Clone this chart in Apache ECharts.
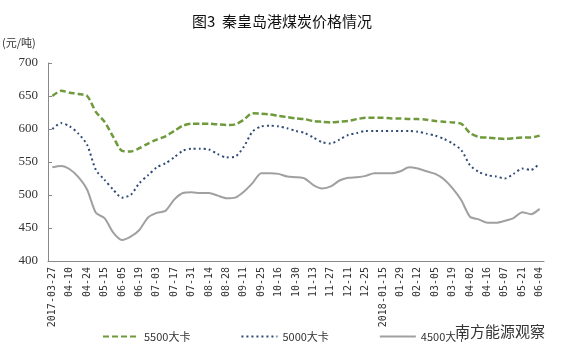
<!DOCTYPE html>
<html><head><meta charset="utf-8">
<script src="https://cdn.jsdelivr.net/npm/echarts@6/dist/echarts.min.js"></script>
<style>html,body{margin:0;padding:0;background:#fff}#c{width:564px;height:357px}</style>
</head><body><div id="c"></div>
<script>
const categories = ['2017-03-27','04-03','04-10','04-17','04-24','05-08','05-15','05-29','06-05','06-12','06-19','06-26','07-03','07-10','07-17','07-24','07-31','08-07','08-14','08-21','08-28','09-04','09-11','09-18','09-25','10-09','10-16','10-23','10-30','11-06','11-13','11-20','11-27','12-04','12-11','12-18','12-25','01-08','2018-01-15','01-22','01-29','02-05','02-12','02-26','03-05','03-12','03-19','03-26','04-02','04-09','04-16','04-23','05-07','05-14','05-21','05-28','06-04'];
const s5500 = [650,658,655,653,650,626,611,588,567,566,571,578,584,589,597,605,608,608,608,607,606,607,614,624,623,622,620,618,616,615,612,611,610,611,612,615,617,617,617,616,616,615,615,614,612,611,610,608,594,588,587,586,585,586,587,587,590];
const s5000 = [600,609,604,593,576,538,523,508,496,500,518,530,542,548,557,567,570,570,569,562,557,558,573,596,604,605,604,601,597,594,587,580,578,584,591,594,597,597,597,597,597,597,596,593,590,585,578,568,545,535,530,528,525,532,540,538,548];
const s4500 = [542,544,539,527,508,473,465,443,432,437,447,466,473,476,493,503,504,503,503,499,495,496,505,518,533,533,532,528,527,525,515,510,513,522,526,527,529,533,533,533,536,542,540,536,532,524,510,492,467,463,458,458,461,465,474,471,479];
const seriesNames = ['5500大卡','5000大卡','4500大卡'];

const chart = echarts.init(document.getElementById('c'));
chart.setOption({
  animation:false,
  title:{text:'图3  秦皇岛港煤炭价格情况',left:'center',top:9,textStyle:{fontSize:15,fontWeight:'normal',color:'#111',fontFamily:'Noto Sans CJK SC'}},
  graphic:[
    {type:'text',left:2,top:37,style:{text:'(元/吨)',font:'11px "Noto Sans CJK SC"',fill:'#333'}},
    {type:'text',left:455,top:324,z:100,style:{text:'南方能源观察',font:'15px "Noto Sans CJK SC"',fill:'#333',backgroundColor:'rgba(255,255,255,0.75)'}}
  ],
  legend:{top:326,left:97,itemGap:50,itemWidth:36,itemHeight:10,
    itemStyle:{opacity:0},
    textStyle:{fontSize:11,color:'#333',fontFamily:'Noto Sans CJK SC'},
    data:seriesNames},
  grid:{left:48,right:20,top:63,bottom:96},
  xAxis:{type:'category',data:categories,boundaryGap:true,
    axisLine:{lineStyle:{color:'#888'}},
    axisTick:{inside:true,interval:1,length:4,lineStyle:{color:'#888'}},
    axisLabel:{rotate:90,interval:1,fontSize:10,color:'#333',fontFamily:'DejaVu Sans Mono',margin:6}},
  yAxis:{type:'value',min:400,max:700,interval:50,
    axisLine:{show:true,lineStyle:{color:'#888'}},
    axisTick:{show:true,inside:true,length:4,lineStyle:{color:'#888'}},
    splitLine:{show:false},
    axisLabel:{fontSize:13,color:'#333',fontFamily:'Liberation Serif',margin:10}},
  series:[
    {name:seriesNames[0],type:'line',data:s5500,symbol:'none',smooth:0.25,color:'#6f9a3c',
     lineStyle:{width:2.5,type:[6,3],color:'#6f9a3c'}},
    {name:seriesNames[1],type:'line',data:s5000,symbol:'none',smooth:0.25,color:'#2f4b78',
     lineStyle:{width:2,type:[2,3],color:'#2f4b78'}},
    {name:seriesNames[2],type:'line',data:s4500,symbol:'none',smooth:0.25,color:'#a0a0a0',
     lineStyle:{width:2,color:'#a0a0a0'}}
  ]
});
</script></body></html>
